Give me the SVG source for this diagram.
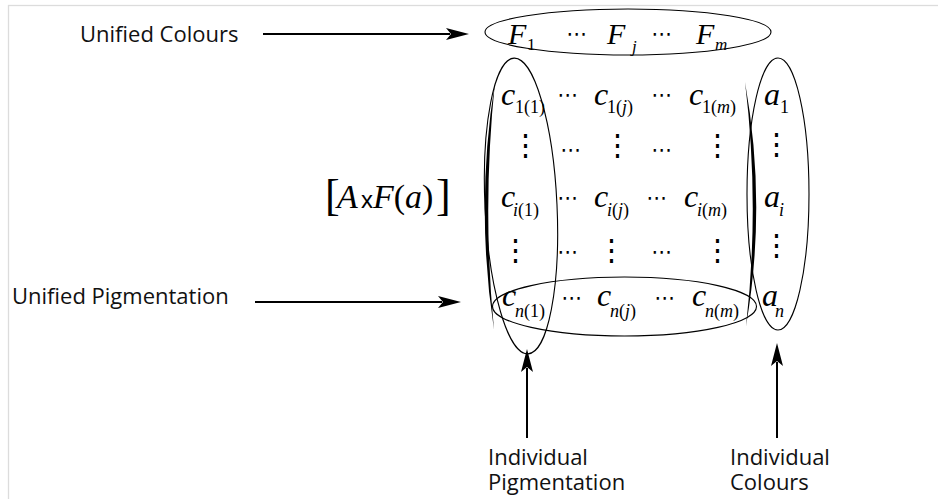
<svg xmlns="http://www.w3.org/2000/svg" width="938" height="499" viewBox="0 0 938 499">
<style>
.lbl{font-family:"Open Sans","Liberation Sans",sans-serif;font-size:22px;fill:#111}
.m{font-family:"Liberation Serif",serif;fill:#000}
.it{font-style:italic}
.big{font-size:32px}
.sub{font-size:18px}
.dots{font-family:"DejaVu Sans",sans-serif;font-size:21px;text-anchor:middle;fill:#000}
.vd{font-family:"Liberation Serif","DejaVu Serif",serif;font-size:29px;text-anchor:middle;fill:#000}
.ell{fill:none;stroke:#000;stroke-width:1.1}
.arr{stroke:#000;stroke-width:2;fill:none}
</style>
<defs>
<marker id="ah" markerUnits="userSpaceOnUse" markerWidth="26" markerHeight="14" refX="4" refY="7" orient="auto">
<path d="M0,1 L23,7 L0,13 L5,7 Z" fill="#000"/>
</marker>
</defs>
<rect width="938" height="499" fill="#fff"/>
<rect x="8.5" y="5.5" width="940" height="500" fill="none" stroke="#dcdcdc" stroke-width="1.3"/>

<g id="unified-colours-label"><text class="lbl" x="80" y="42">Unified Colours</text></g>
<g id="unified-pigmentation-label"><text class="lbl" x="12" y="304">Unified Pigmentation</text></g>
<g id="individual-pigmentation-label"><text class="lbl" x="488" y="465">Individual</text><text class="lbl" x="488" y="490">Pigmentation</text></g>
<g id="individual-colours-label"><text class="lbl" x="730" y="465">Individual</text><text class="lbl" x="730" y="490">Colours</text></g>

<g id="expression">
<text class="m" x="325" y="210" font-size="44">[</text>
<text class="m it" x="337" y="208" font-size="34">A</text>
<text x="361" y="208" font-family="Liberation Sans,sans-serif" font-size="24">x</text>
<text class="m" x="373" y="208" font-size="34"><tspan class="it">F</tspan>(<tspan class="it">a</tspan>)</text>
<text class="m" x="436" y="210" font-size="44">]</text>
</g>

<g id="top-row">
<text class="m it" x="508" y="44" font-size="30">F</text><text class="m" x="527" y="50" font-size="17">1</text>
<text class="dots" x="577" y="41">⋯</text>
<text class="m it" x="607" y="44" font-size="30">F</text><text class="m it" x="632" y="52" font-size="17">j</text>
<text class="dots" x="662" y="41">⋯</text>
<text class="m it" x="696" y="44" font-size="30">F</text><text class="m it" x="715" y="50" font-size="17">m</text>
</g>

<g id="matrix">
<path d="M495,82 Q475,206 494,330 Q482,206 495,82 Z" fill="#000"/>
<path d="M745,82 Q767,205 746,326 Q760,205 745,82 Z" fill="#000"/>
<!-- row 1 -->
<text class="m it big" x="501" y="105">c</text><text class="m sub" x="515" y="113">1(1)</text>
<text class="dots" x="568" y="102">⋯</text>
<text class="m it big" x="594" y="105">c</text><text class="m sub" x="607" y="113">1(<tspan class="it">j</tspan>)</text>
<text class="dots" x="662" y="102">⋯</text>
<text class="m it big" x="689" y="105">c</text><text class="m sub" x="702" y="113">1(<tspan class="it">m</tspan>)</text>
<text class="m it big" x="764" y="105">a</text><text class="m sub" x="780" y="113">1</text>
<!-- row 2 -->
<text class="vd" x="525" y="155">⋮</text>
<text class="dots" x="571" y="157">⋯</text>
<text class="vd" x="617" y="155">⋮</text>
<text class="dots" x="662" y="157">⋯</text>
<text class="vd" x="717" y="155">⋮</text>
<text class="vd" x="776" y="154">⋮</text>
<!-- row i -->
<text class="m it big" x="501" y="207">c</text><text class="m sub" x="513" y="216"><tspan class="it">i</tspan>(1)</text>
<text class="dots" x="568" y="205">⋯</text>
<text class="m it big" x="594" y="207">c</text><text class="m sub" x="607" y="216"><tspan class="it">i</tspan>(<tspan class="it">j</tspan>)</text>
<text class="dots" x="657" y="205">⋯</text>
<text class="m it big" x="684" y="207">c</text><text class="m sub" x="697" y="216"><tspan class="it">i</tspan>(<tspan class="it">m</tspan>)</text>
<text class="m it big" x="764" y="207">a</text><text class="m it sub" x="779" y="216">i</text>
<!-- row 4 -->
<text class="vd" x="515" y="260">⋮</text>
<text class="dots" x="568" y="259">⋯</text>
<text class="vd" x="611" y="260">⋮</text>
<text class="dots" x="662" y="259">⋯</text>
<text class="vd" x="717" y="260">⋮</text>
<text class="vd" x="776" y="255">⋮</text>
<!-- row n -->
<text class="m it big" x="502" y="306">c</text><text class="m sub" x="515" y="317"><tspan class="it">n</tspan>(1)</text>
<text class="dots" x="572" y="305">⋯</text>
<text class="m it big" x="597" y="306">c</text><text class="m sub" x="610" y="317"><tspan class="it">n</tspan>(<tspan class="it">j</tspan>)</text>
<text class="dots" x="665" y="305">⋯</text>
<text class="m it big" x="692" y="306">c</text><text class="m sub" x="705" y="317"><tspan class="it">n</tspan>(<tspan class="it">m</tspan>)</text>
<text class="m it big" x="762" y="306">a</text><text class="m it sub" x="775" y="317">n</text>
</g>

<g id="ellipses">
<ellipse id="unified-colours" class="ell" cx="628" cy="32" rx="143" ry="23"/>
<ellipse id="individual-pigmentation" class="ell" cx="521" cy="206" rx="36" ry="148" transform="rotate(-2.7 521 206)"/>
<ellipse id="individual-colours" class="ell" cx="778" cy="194" rx="31" ry="136"/>
<ellipse id="unified-pigmentation" class="ell" cx="624.5" cy="306.5" rx="132" ry="29.5"/>
</g>

<g id="connectors">
<line class="arr" x1="263" y1="34" x2="450" y2="34" marker-end="url(#ah)"/>
<line class="arr" x1="255" y1="302" x2="442" y2="302" marker-end="url(#ah)"/>
<line class="arr" x1="527" y1="438" x2="527" y2="368" marker-end="url(#ah)"/>
<line class="arr" x1="777" y1="438" x2="777" y2="362" marker-end="url(#ah)"/>
</g>
</svg>
